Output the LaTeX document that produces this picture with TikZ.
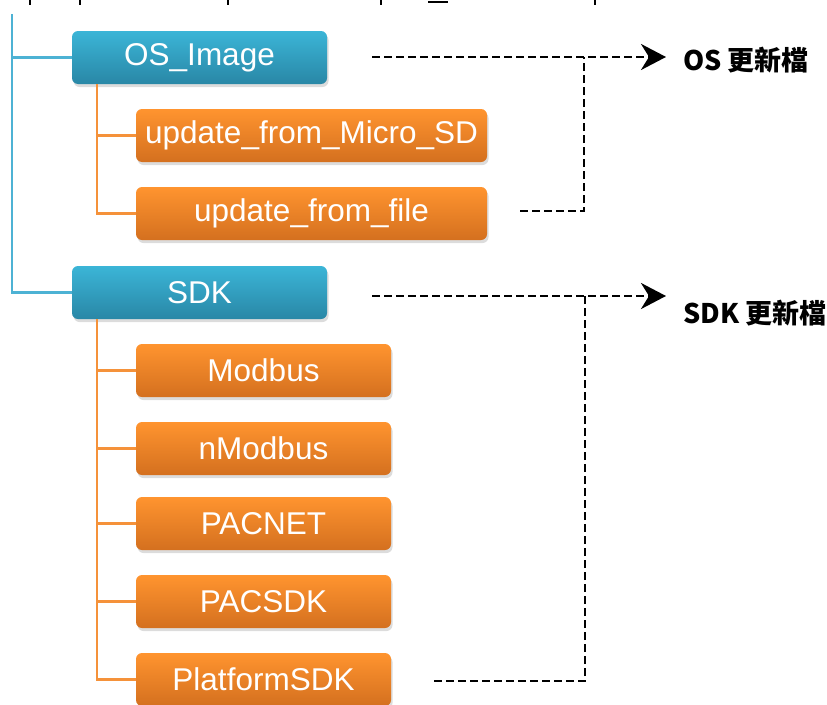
\documentclass[tikz,border=0pt]{standalone}
\usepackage{fontspec}
\setmainfont{Liberation Sans}
\newfontfamily\cjkfont{Noto Sans CJK TC}
\usetikzlibrary{shadows,arrows.meta}
\definecolor{folderblue}{HTML}{3BB5D7}
\definecolor{folderdark}{HTML}{2987A6}
\definecolor{fileorange}{HTML}{FF942F}
\definecolor{filedark}{HTML}{D4701F}
\definecolor{treeblue}{HTML}{4DB2D4}
\definecolor{treeorange}{HTML}{F5923A}
\tikzset{
  box/.style={rounded corners=6pt,text=white,inner sep=0pt,minimum height=53pt,
    font=\fontsize{31.5}{36}\selectfont,
    drop shadow={opacity=0.28,shadow xshift=1.5pt,shadow yshift=-3pt}},
  folder/.style={box,top color=folderblue,bottom color=folderdark,minimum width=255pt},
  file/.style={box,top color=fileorange,bottom color=filedark,minimum width=255pt},
  wide file/.style={file,minimum width=351pt},
  trunk/.style={draw=treeblue,line width=2.2pt},
  branch/.style={draw=treeorange,line width=2.2pt},
  link/.style={draw=black,line width=2.8pt,dash pattern=on 8pt off 4pt},
  tip/.style={-{Stealth[length=25pt,width=26pt,inset=8pt]}},
  result/.style={anchor=west,inner sep=0pt,font=\cjkfont\bfseries\fontsize{27}{32}\selectfont}
}
\begin{document}
\begin{tikzpicture}[x=1pt,y=-1pt]
  \useasboundingbox (0,0) rectangle (827,704);
  % cut-off path line above the tree
  \foreach \x in {30,80,228,381,595}
    \draw[line width=2.8pt] (\x,0) -- (\x,5);
  \draw[line width=1.5pt] (428,2) -- (448,2);

  \node[folder] (os) at (199.5,57.5) {OS\_Image};
  \node[wide file] (micro) at (311.5,135.5) {update\_from\_Micro\_SD};
  \node[wide file] (upfile) at (311.5,213.5) {update\_from\_file};
  \node[folder] (sdk) at (199.5,292.5) {SDK};
  \node[file] (modbus) at (263.5,370.5) {Modbus};
  \node[file] (nmodbus) at (263.5,448.5) {nModbus};
  \node[file] (pacnet) at (263.5,523.5) {PACNET};
  \node[file] (pacsdk) at (263.5,601.5) {PACSDK};
  \node[file] (platform) at (263.5,679.5) {PlatformSDK};

  % tree lines
  \coordinate (root) at (12,14);
  \draw[trunk] (root) |- (os.west);
  \draw[trunk] (root) |- (sdk.west);
  \coordinate (osspine) at ([xshift=25pt]os.south west);
  \coordinate (sdkspine) at ([xshift=25pt]sdk.south west);
  \foreach \c in {micro,upfile}
    \draw[branch] (osspine) |- (\c.west);
  \foreach \c in {modbus,nmodbus,pacnet,pacsdk,platform}
    \draw[branch] (sdkspine) |- (\c.west);

  % update files
  \node[result] (oslabel) at (683,60) {OS 更新檔};
  \node[result] (sdklabel) at (683,313) {SDK 更新檔};
  \coordinate (osout) at (372,57);
  \coordinate (ostip) at (666,57);
  \coordinate (osjoin) at (584,57);
  \coordinate (fileout) at (520,211);
  \coordinate (sdkout) at (372,296);
  \coordinate (sdktip) at (666,296);
  \coordinate (sdkjoin) at (585,296);
  \coordinate (platout) at (434,681);
  \draw[link,tip] (osout) -- (ostip);
  \draw[link] (fileout) -| (osjoin);
  \draw[link,tip] (sdkout) -- (sdktip);
  \draw[link] (platout) -| (sdkjoin);
\end{tikzpicture}
\end{document}
